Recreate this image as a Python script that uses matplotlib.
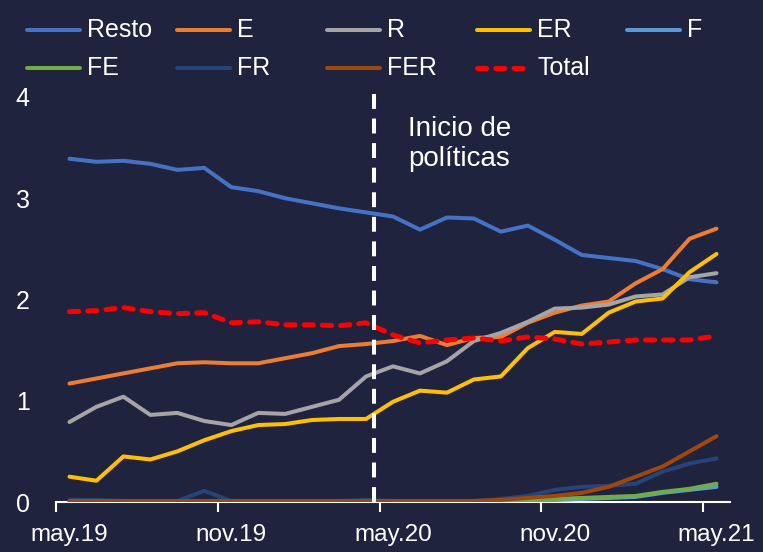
import matplotlib
matplotlib.use("Agg")
import matplotlib.pyplot as plt
from matplotlib.lines import Line2D

plt.rcParams['font.family'] = ['Liberation Sans', 'DejaVu Sans']

BG = '#1f233d'
FG = 'white'

# meses may.19 .. may.21 (25 observaciones mensuales)
months = ['may.19', 'jun.19', 'jul.19', 'ago.19', 'sep.19', 'oct.19', 'nov.19', 'dic.19',
          'ene.20', 'feb.20', 'mar.20', 'abr.20', 'may.20', 'jun.20', 'jul.20', 'ago.20',
          'sep.20', 'oct.20', 'nov.20', 'dic.20', 'ene.21', 'feb.21', 'mar.21', 'abr.21',
          'may.21']
tick_labels = ['may.19', 'nov.19', 'may.20', 'nov.20', 'may.21']

resto = [3.39, 3.36, 3.37, 3.34, 3.28, 3.30, 3.11, 3.07, 3.00, 2.95, 2.90, 2.86, 2.82,
         2.69, 2.81, 2.80, 2.67, 2.73, 2.59, 2.44, 2.41, 2.38, 2.30, 2.20, 2.17]
e = [1.17, 1.22, 1.27, 1.32, 1.37, 1.38, 1.37, 1.37, 1.42, 1.47, 1.54, 1.56, 1.59,
     1.64, 1.55, 1.62, 1.63, 1.77, 1.87, 1.94, 1.98, 2.16, 2.30, 2.60, 2.70]
r = [0.79, 0.94, 1.04, 0.86, 0.88, 0.80, 0.76, 0.88, 0.87, 0.94, 1.01, 1.24, 1.34,
     1.27, 1.39, 1.59, 1.67, 1.78, 1.91, 1.92, 1.95, 2.03, 2.05, 2.22, 2.26]
er = [0.25, 0.21, 0.45, 0.42, 0.50, 0.61, 0.70, 0.76, 0.77, 0.81, 0.82, 0.82, 0.99,
      1.10, 1.08, 1.21, 1.24, 1.52, 1.68, 1.66, 1.87, 1.98, 2.01, 2.27, 2.45]
f = [0.0, 0.0, 0.0, 0.0, 0.0, 0.0, 0.0, 0.0, 0.0, 0.0, 0.0, 0.0, 0.0,
     0.0, 0.0, 0.0, 0.0, 0.01, 0.02, 0.03, 0.04, 0.05, 0.09, 0.12, 0.15]
fe = [0.0, 0.0, 0.0, 0.0, 0.0, 0.0, 0.0, 0.0, 0.0, 0.0, 0.0, 0.0, 0.0,
      0.0, 0.0, 0.0, 0.01, 0.02, 0.03, 0.04, 0.05, 0.06, 0.10, 0.13, 0.18]
fr = [0.02, 0.02, 0.01, 0.01, 0.01, 0.11, 0.01, 0.01, 0.01, 0.01, 0.01, 0.02, 0.01,
      0.01, 0.01, 0.01, 0.03, 0.06, 0.12, 0.15, 0.16, 0.18, 0.30, 0.38, 0.43]
fer = [0.01, 0.01, 0.01, 0.01, 0.01, 0.01, 0.01, 0.01, 0.01, 0.01, 0.01, 0.01, 0.01,
       0.01, 0.01, 0.01, 0.02, 0.04, 0.06, 0.09, 0.15, 0.25, 0.35, 0.50, 0.65]
total = [1.88, 1.89, 1.92, 1.88, 1.86, 1.87, 1.77, 1.78, 1.75, 1.75, 1.74, 1.77, 1.65,
         1.57, 1.60, 1.62, 1.59, 1.63, 1.61, 1.56, 1.58, 1.60, 1.60, 1.60, 1.64]

policy_x = 11.3  # inicio de políticas (entre abr.20 y may.20)

names = ['Resto', 'E', 'R', 'ER', 'F', 'FE', 'FR', 'FER', 'Total']
series = [resto, e, r, er, f, fe, fr, fer, total]
colors = ['#4472c4', '#ed7d31', '#a5a5a5', '#ffc000', '#5b9bd5',
          '#70ad47', '#264478', '#9e480e', '#ff0000']

TOTAL_DASH = (1.85, 1.8)

fig = plt.figure(figsize=(7.63, 5.52), dpi=100, facecolor=BG)
ax = fig.add_axes([56 / 763, 1 - 502 / 552, 674 / 763, 405 / 552])
ax.set_facecolor(BG)

x = list(range(len(months)))
for name, vals, col in zip(names, series, colors):
    if name == 'Total':
        ax.plot(x, vals, color=col, lw=3.6, dashes=TOTAL_DASH,
                dash_capstyle='round', zorder=5)
    else:
        ax.plot(x, vals, color=col, lw=2.9, solid_capstyle='round', zorder=3)

# línea vertical discontinua
ax.plot([policy_x, policy_x], [0, 4.09], color=FG, lw=2.9, dashes=(3.7, 2.4),
        clip_on=False, zorder=6)
ax.text(policy_x + 1.25, 3.54, 'Inicio de\npolíticas', color=FG, fontsize=20,
        va='center', ha='left', linespacing=1.2)

ax.set_xlim(-0.5, len(months) - 0.5)
ax.set_ylim(0, 4)

# marcas entre categorías, etiquetas cada 6 meses
ax.set_xticks([i - 0.5 for i in range(0, len(months), 6)])
ax.set_xticklabels([])
ax.set_xticks(range(0, len(months), 6), minor=True)
ax.set_xticklabels(tick_labels, minor=True)
ax.tick_params(axis='x', which='major', direction='out', length=7, width=1.5, color=FG)
ax.tick_params(axis='x', which='minor', length=0, pad=16, labelsize=17.5, labelcolor=FG)

ax.set_yticks([0, 1, 2, 3, 4])
ax.tick_params(axis='y', length=0, pad=19, labelsize=18, labelcolor=FG)

for s in ['top', 'right', 'left']:
    ax.spines[s].set_visible(False)
ax.spines['bottom'].set_color(FG)
ax.spines['bottom'].set_linewidth(1.5)

# leyenda (5 columnas de igual ancho, como en Excel)
W, H = 763, 552
for i, (name, col) in enumerate(zip(names, colors)):
    x0 = 27 + 150 * (i % 5)
    y0 = 30 + 38 * (i // 5)
    if name == 'Total':
        ln = Line2D([x0 / W, (x0 + 53) / W], [1 - y0 / H, 1 - y0 / H], color=col,
                    lw=3.6, dashes=TOTAL_DASH, dash_capstyle='round',
                    transform=fig.transFigure)
    else:
        ln = Line2D([x0 / W, (x0 + 53) / W], [1 - y0 / H, 1 - y0 / H], color=col,
                    lw=2.9, solid_capstyle='round', transform=fig.transFigure)
    fig.add_artist(ln)
    fig.text((x0 + 60) / W, 1 - y0 / H, name, color=FG, fontsize=18,
             va='center', ha='left')

fig.savefig('out.png', dpi=100, facecolor=BG)
